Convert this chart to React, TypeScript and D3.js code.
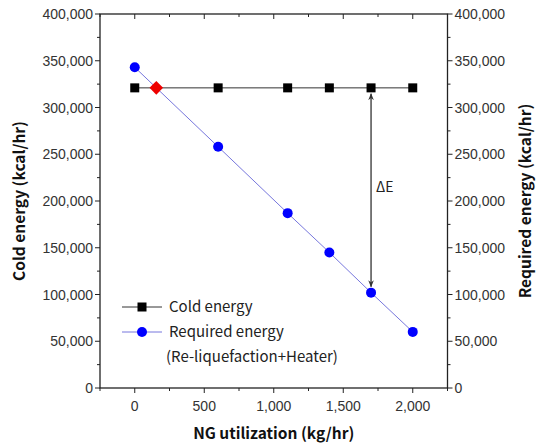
import React from "react";
import * as d3 from "d3";

const ngUtil = [0, 600, 1100, 1400, 1700, 2000];
const coldEnergy = [321000, 321000, 321000, 321000, 321000, 321000];
const requiredEnergy = [343000, 258000, 187000, 145000, 102000, 60000];
const intersection = { x: 155, y: 321000 };
const deltaX = 1700;
const xTicks = [0, 500, 1000, 1500, 2000];
const yTicks = [0, 50000, 100000, 150000, 200000, 250000, 300000, 350000, 400000];

const W = 539, H = 444;
const L = 100, R = 447.5, T = 14, B = 388;

export default function App() {
  const x = d3.scaleLinear().domain([-250, 2250]).range([L, R]);
  const y = d3.scaleLinear().domain([0, 400000]).range([B, T]);
  const fmt = d3.format(",");
  const xMinor = d3.range(-250, 2251, 250);
  const yMinor = d3.range(0, 400001, 25000);
  const tickFont = "'Liberation Sans', Arial, sans-serif";
  const titleFont = "'Noto Sans CJK KR', 'Noto Sans', sans-serif";
  const line = d3.line<number>().x((_, i) => x(ngUtil[i])).y((d) => y(d));
  const ax = x(deltaX);
  const y1 = y(coldEnergy[4]) + 6;
  const y2 = y(requiredEnergy[4]) - 6;
  return (
    <svg width={W} height={H} style={{ position: "absolute", left: 0, top: 0 }}>
      <rect width={W} height={H} fill="#fff" />
      <defs>
        <marker id="ah" viewBox="0 0 10 10" refX="9" refY="5" markerWidth="7" markerHeight="7" orient="auto-start-reverse" markerUnits="userSpaceOnUse">
          <path d="M0,1 L10,5 L0,9 L3,5 Z" fill="#333" />
        </marker>
      </defs>
      <rect x={L} y={T} width={R - L} height={B - T} fill="none" stroke="#222" strokeWidth={1.3} />
      {xMinor.map((v) => {
        const major = v % 500 === 0;
        const len = major ? 5 : 3;
        return (
          <g key={"x" + v}>
            <line x1={x(v)} x2={x(v)} y1={B} y2={B + len} stroke="#222" />
            <line x1={x(v)} x2={x(v)} y1={T} y2={T + len} stroke="#222" />
          </g>
        );
      })}
      {xTicks.map((v) => (
        <text key={"xl" + v} x={x(v)} y={B + 23} textAnchor="middle" fontFamily={tickFont} fontSize={14} fill="#333">
          {fmt(v)}
        </text>
      ))}
      {yMinor.map((v) => {
        const major = v % 50000 === 0;
        const len = major ? 5 : 3;
        return (
          <g key={"y" + v}>
            <line x1={L - len} x2={L} y1={y(v)} y2={y(v)} stroke="#222" />
            <line x1={R} x2={R + len} y1={y(v)} y2={y(v)} stroke="#222" />
          </g>
        );
      })}
      {yTicks.map((v) => (
        <g key={"yl" + v}>
          <text x={L - 7} y={y(v) + 5} textAnchor="end" fontFamily={tickFont} fontSize={14} fill="#333">
            {fmt(v)}
          </text>
          <text x={R + 7} y={y(v) + 5} textAnchor="start" fontFamily={tickFont} fontSize={14} fill="#333">
            {fmt(v)}
          </text>
        </g>
      ))}
      <text x={(L + R) / 2} y={439} textAnchor="middle" fontFamily={titleFont} fontWeight="bold" fontSize={15.5} fill="#111">
        NG utilization (kg/hr)
      </text>
      <text transform={`translate(25,${(T + B) / 2}) rotate(-90)`} textAnchor="middle" fontFamily={titleFont} fontWeight="bold" fontSize={15.5} fill="#111">
        Cold energy (kcal/hr)
      </text>
      <text transform={`translate(531,${(T + B) / 2}) rotate(-90)`} textAnchor="middle" fontFamily={titleFont} fontWeight="bold" fontSize={15.5} fill="#111">
        Required energy (kcal/hr)
      </text>
      <path d={line(coldEnergy) || ""} fill="none" stroke="#333" strokeWidth={1} />
      <path d={line(requiredEnergy) || ""} fill="none" stroke="#7777dd" strokeWidth={1} />
      {coldEnergy.map((v, i) => (
        <rect key={"c" + i} x={x(ngUtil[i]) - 4.5} y={y(v) - 4.5} width={9} height={9} fill="#000" />
      ))}
      {requiredEnergy.map((v, i) => (
        <circle key={"r" + i} cx={x(ngUtil[i])} cy={y(v)} r={5} fill="#0000ff" />
      ))}
      <rect x={-4.8} y={-4.8} width={9.6} height={9.6} fill="#ee0000"
        transform={`translate(${x(intersection.x)},${y(intersection.y)}) rotate(45)`} />
      <line x1={ax} x2={ax} y1={y1} y2={y2} stroke="#333" strokeWidth={1.3} markerStart="url(#ah)" markerEnd="url(#ah)" />
      <text x={376} y={192} fontFamily={titleFont} fontSize={14} fill="#222">ΔE</text>
      <line x1={122} x2={162} y1={307} y2={307} stroke="#333" strokeWidth={1} />
      <rect x={142 - 4.5} y={307 - 4.5} width={9} height={9} fill="#000" />
      <text x={169} y={312} fontFamily={titleFont} fontSize={15} fill="#222">Cold energy</text>
      <line x1={122} x2={162} y1={332} y2={332} stroke="#7777dd" strokeWidth={1} />
      <circle cx={142} cy={332} r={5} fill="#0000ff" />
      <text x={169} y={337} fontFamily={titleFont} fontSize={15} fill="#222">Required energy</text>
      <text x={166} y={362} fontFamily={titleFont} fontSize={15} fill="#222">(Re-liquefaction+Heater)</text>
    </svg>
  );
}
